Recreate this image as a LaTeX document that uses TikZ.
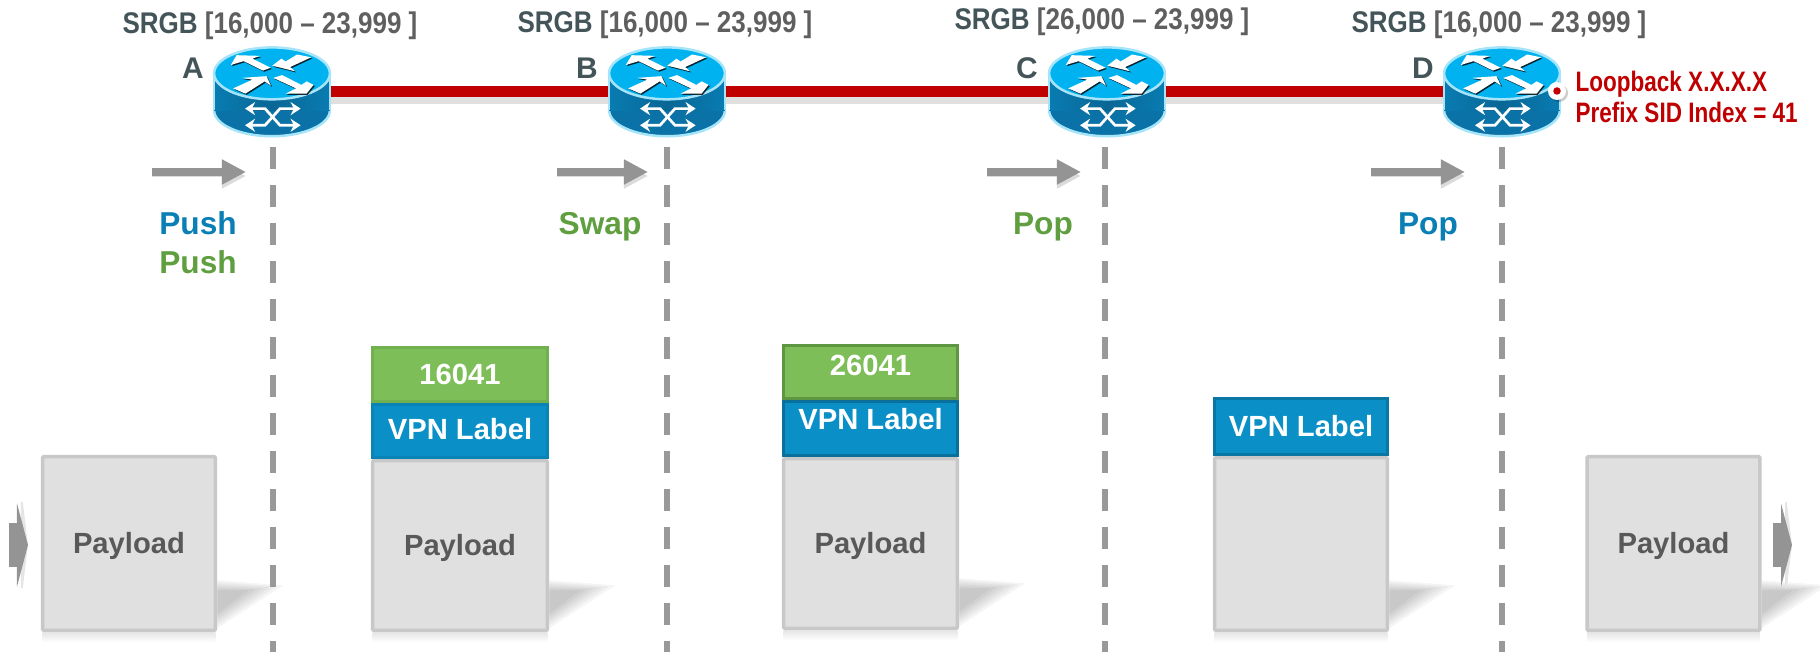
\documentclass[tikz,border=0pt]{standalone}
\usepackage{fontspec}
\usetikzlibrary{arrows.meta,shadows}
\setmainfont{Liberation Sans}
\newfontfamily\narrowfont[FakeStretch=0.87]{Liberation Sans}
\newfontfamily\loopfont[FakeStretch=0.8]{Liberation Sans}

\definecolor{routertop}{HTML}{00B3F0}
\definecolor{routerside}{HTML}{0A72A6}
\definecolor{routerrim}{HTML}{A6E5F9}
\definecolor{linkred}{HTML}{C00000}
\definecolor{srgbteal}{HTML}{44555A}
\definecolor{srgbgray}{HTML}{5F5F5F}
\definecolor{pushblue}{HTML}{0A7FB5}
\definecolor{pushgreen}{HTML}{5F9F3F}
\definecolor{labelgreen}{HTML}{7DBE58}
\definecolor{labelgreenline}{HTML}{70B04E}
\definecolor{labelblue}{HTML}{0A8FC6}
\definecolor{labelblueline}{HTML}{0A84B6}
\definecolor{payloadfill}{HTML}{E0E0E0}
\definecolor{payloadline}{HTML}{C8C8C8}
\definecolor{payloadtext}{HTML}{595959}

\tikzset{
	routerbox/.style={rectangle,minimum width=1.16cm,minimum height=.9cm,inner sep=0pt,outer sep=0pt},
	link/.style={draw=linkred,line width=.11cm,preaction={draw=black!12,line width=.09cm,transform canvas={yshift=-.07cm}}},
	cutline/.style={draw=black!40,line width=.056cm,dash pattern=on .215cm off .165cm},
	steparrow/.style={draw=black!42,line width=.075cm,-{Triangle[length=.24cm,width=.235cm]},preaction={draw=black!14,transform canvas={yshift=-.04cm}}},
	sidearrow/.style={draw=black!42,line width=.43cm,-{Triangle[length=.11cm,width=.83cm]},preaction={draw=black!10,line width=.2cm,-{Triangle[length=.07cm,width=1.15cm]}}},
	srgb/.style={font=\narrowfont\bfseries\fontsize{8.5}{10}\selectfont,text=srgbgray,text height=.215cm,text depth=0pt,inner sep=0pt},
	routername/.style={font=\bfseries\fontsize{8.5}{10}\selectfont,text=srgbteal,text height=.215cm,text depth=0pt,inner sep=0pt},
	action/.style={font=\bfseries\fontsize{9}{10}\selectfont,text height=.2cm,text depth=0pt,inner sep=0pt},
	pkt/.style={rectangle,line width=.035cm,inner sep=0pt,outer sep=0pt,text height=.205cm,text depth=0pt,font=\bfseries\fontsize{8.3}{10}\selectfont},
	payloadbox/.style={pkt,rounded corners=.01cm,draw=payloadline,fill=payloadfill,text=payloadtext},
	bluebox/.style={pkt,draw=labelblueline,fill=labelblue,text=white},
	greenbox/.style={pkt,draw=labelgreenline,fill=labelgreen,text=white},
	routerarrow/.style={fill=white,drop shadow={shadow xshift=.012cm,shadow yshift=-.012cm,fill=black,opacity=.8}},
	routercross/.style={draw=white,line width=.027cm,{Stealth[length=.1cm,width=.13cm]}-{Stealth[length=.1cm,width=.13cm]}},
	router/.pic={
		\begin{scope}[x=.00333cm,y=-.00333cm,shift={(-186,-150)}]
			% body
			\draw[routerrim,line width=.025cm,fill=routerside] (186,205) ellipse [x radius=174,y radius=78];
			\shade[left color=routerside!85!routertop,right color=routerside!85!routertop,middle color=routerside!90!black] (12,92) rectangle (360,205);
			\draw[routerrim,line width=.025cm] (12,92) -- (12,205) (360,92) -- (360,205);
			\draw[routerrim,line width=.025cm,fill=routertop] (186,94) ellipse [x radius=174,y radius=78];
			% arrows on top
			\begin{scope}[shift={(186,94)},scale=1.05,shift={(-186,-92)}]
				\path[routerarrow] (68,68) -- (85,40) -- (152,42) -- (130,50) -- (182,76) -- (160,84) -- (105,57) -- cycle;
				\path[routerarrow] (298,46) -- (258,38) -- (225,58) -- (213,50) -- (187,70) -- (252,86) -- (238,74) -- cycle;
				\path[routerarrow] (75,135) -- (130,110) -- (100,105) -- (170,100) -- (183,127) -- (165,115) -- (110,150) -- cycle;
				\path[routerarrow] (190,105) -- (215,97) -- (270,125) -- (285,115) -- (305,125) -- (285,150) -- (225,150) -- (255,135) -- cycle;
			\end{scope}
			% arrows on the side
			\draw[routercross] (105,200) -- (165,200) -- (210,250) -- (272,250);
			\draw[routercross] (105,250) -- (165,250) -- (210,200) -- (272,200);
		\end{scope}
	}
}

\begin{document}
\begin{tikzpicture}[x=.01cm,y=-.01cm]
	\useasboundingbox (0,0) rectangle (1820,652);

	% routers
	\node[routerbox] (A) at (272,92) {};
	\node[routerbox] (B) at (667,92) {};
	\node[routerbox] (C) at (1107,92) {};
	\node[routerbox] (D) at (1502,92) {};

	% links
	\draw[link] (A) -- (B);
	\draw[link] (B) -- (C);
	\draw[link] (C) -- (D);

	\foreach \name in {A,B,C,D}
		\pic at (\name) {router};

	% labels on top
	\node[srgb] (srgbA) at (270,23) {{\color{srgbteal}SRGB} [16,000 – 23,999 ]};
	\node[srgb] (srgbB) at (665,22) {{\color{srgbteal}SRGB} [16,000 – 23,999 ]};
	\node[srgb] (srgbC) at (1102,19) {{\color{srgbteal}SRGB} [26,000 – 23,999 ]};
	\node[srgb] (srgbD) at (1499,22) {{\color{srgbteal}SRGB} [16,000 – 23,999 ]};
	\node[routername] (nameA) at (193,68) {A};
	\node[routername] (nameB) at (587,68) {B};
	\node[routername] (nameC) at (1027,68) {C};
	\node[routername] (nameD) at (1423,68) {D};

	% loopback
	\node[circle,fill=white,inner sep=0pt,minimum size=.18cm,drop shadow={shadow xshift=.02cm,shadow yshift=-.02cm,fill=black,opacity=.2}] (loopring) at (1557,91) {};
	\node[circle,fill=linkred,inner sep=0pt,minimum size=.075cm] (loopdot) at (loopring) {};
	\node[anchor=west,align=left,inner sep=0pt,text=linkred,font=\loopfont\bfseries\fontsize{8}{8.8}\selectfont] (loopback) at (1575,97) {Loopback X.X.X.X\\Prefix SID Index = 41};

	% actions
	\node[action,text=pushblue] (pushA) at (198,224) {Push};
	\node[action,text=pushgreen] (pushB) at (198,263) {Push};
	\node[action,text=pushgreen] (swap) at (600,225) {Swap};
	\node[action,text=pushgreen] (popC) at (1043,225) {Pop};
	\node[action,text=pushblue] (popD) at (1428,225) {Pop};

	% packets
	\node[payloadbox,minimum width=1.725cm,minimum height=1.735cm] (pktA) at (129,543.5) {Payload\hspace{.07cm}};
	\node[payloadbox,minimum width=1.745cm,minimum height=1.695cm] (pktB) at (460,545.5) {Payload};
	\node[bluebox,minimum width=1.745cm,minimum height=.525cm,text depth=.04cm] (vpnB) at (460,431) {VPN Label};
	\node[greenbox,minimum width=1.745cm,minimum height=.535cm] (sidB) at (460,374.5) {16041};
	\node[payloadbox,minimum width=1.735cm,minimum height=1.695cm] (pktC) at (870.5,543.5) {Payload};
	\node[bluebox,draw=labelblueline!85!black,minimum width=1.735cm,minimum height=.535cm,text depth=.19cm] (vpnC) at (870.5,428.5) {VPN Label};
	\node[greenbox,draw=labelgreenline!85!black,minimum width=1.735cm,minimum height=.525cm,text depth=.14cm] (sidC) at (870.5,372) {26041};
	\node[payloadbox,minimum width=1.725cm,minimum height=1.725cm] (pktD) at (1301,544) {};
	\node[bluebox,draw=labelblueline!90!black,minimum width=1.725cm,minimum height=.555cm] (vpnD) at (1301,426.5) {VPN Label};
	\node[payloadbox,minimum width=1.725cm,minimum height=1.735cm] (pktE) at (1673.5,543.5) {Payload\hspace{.07cm}};

	% shadows of the packets
	\foreach \pkt in {pktA,pktB,pktC,pktD,pktE} {
		\foreach \i in {0,...,5}
			\fill[shift={(\pkt.south east)},black,opacity=.04] (2,-50+2*\i) -- (68-7*\i,-45+\i) -- (2,-2-3*\i) -- cycle;
		\shade[top color=black!10,bottom color=white] ([yshift=-.02cm]\pkt.south west) rectangle ([yshift=-.12cm]\pkt.south east);
	}

	% cuts
	\foreach \name/\xpos in {A/273,B/667,C/1105,D/1502} {
		\coordinate (cut\name top) at (\xpos,147);
		\coordinate (cut\name end) at (\xpos,652);
		\draw[cutline] (cut\name top) -- (cut\name end);
	}

	% arrows
	\foreach \name/\xa/\xb in {A/152/246,B/557/648,C/987/1081,D/1371/1465} {
		\coordinate (step\name from) at (\xa,172);
		\coordinate (step\name to) at (\xb,172);
		\draw[steparrow] (step\name from) -- (step\name to);
	}
	\coordinate (inA) at (9,545);
	\coordinate (inB) at (28,545);
	\coordinate (outA) at (1773,545);
	\coordinate (outB) at (1792,545);
	\draw[sidearrow] (inA) -- (inB);
	\draw[sidearrow] (outA) -- (outB);
\end{tikzpicture}
\end{document}
